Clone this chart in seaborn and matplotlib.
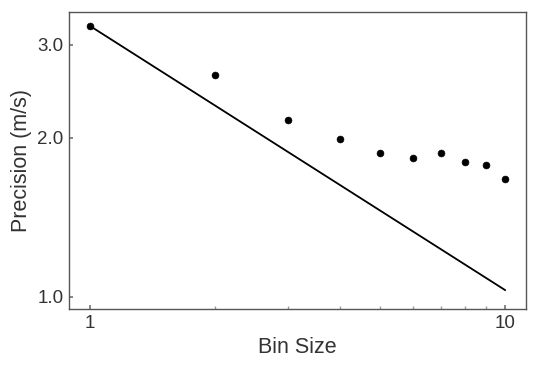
import numpy as np
import pandas as pd
import matplotlib
matplotlib.use("Agg")
import matplotlib.pyplot as plt
import seaborn as sns
from matplotlib.ticker import FixedLocator, FixedFormatter, NullFormatter, NullLocator

# measured precision vs bin size
bin_size = [1, 2, 3, 4, 5, 6, 7, 8, 9, 10]
precision = [3.26, 2.63, 2.16, 1.99, 1.87, 1.83, 1.87, 1.80, 1.78, 1.67]

# ideal 1/sqrt(N) line, endpoints
line_x = [1, 10]
line_y = [3.26, 1.03]

sns.set_theme(style="ticks")
plt.rcParams['font.family'] = ['Liberation Sans', 'DejaVu Sans']

df = pd.DataFrame({'bin': bin_size, 'prec': precision})

fig, ax = plt.subplots(figsize=(5.38, 3.70), dpi=100)
ax.set_xscale('log')
ax.set_yscale('log')
sns.lineplot(x=line_x, y=line_y, color='black', lw=1.3, ax=ax)
sns.scatterplot(data=df, x='bin', y='prec', color='black', s=25, edgecolor=None, ax=ax, zorder=3)

ax.set_xlim(0.89, 11.23)
ax.set_ylim(0.949, 3.466)

ax.xaxis.set_major_locator(FixedLocator([1, 10]))
ax.xaxis.set_major_formatter(FixedFormatter(['1', '10']))
ax.xaxis.set_minor_locator(FixedLocator([2, 3, 4, 5, 6, 7, 8, 9]))
ax.xaxis.set_minor_formatter(NullFormatter())
ax.yaxis.set_major_locator(FixedLocator([1, 2, 3]))
ax.yaxis.set_major_formatter(FixedFormatter(['1.0', '2.0', '3.0']))
ax.yaxis.set_minor_locator(NullLocator())

ax.tick_params(axis='both', which='major', direction='in', labelsize=13.5, length=3,
               pad=4, color='#777777', labelcolor='#333333')
ax.tick_params(axis='x', which='minor', direction='in', length=2, color='#999999')
for sp in ax.spines.values():
    sp.set_color('#555555')
    sp.set_linewidth(1.0)

ax.set_xlabel('Bin Size', fontsize=15.5, color='#333333', labelpad=4)
ax.set_ylabel('Precision (m/s)', fontsize=15.5, color='#333333', labelpad=4)

fig.subplots_adjust(left=0.128, right=0.978, top=0.968, bottom=0.165)
fig.savefig('out.png', dpi=100)
